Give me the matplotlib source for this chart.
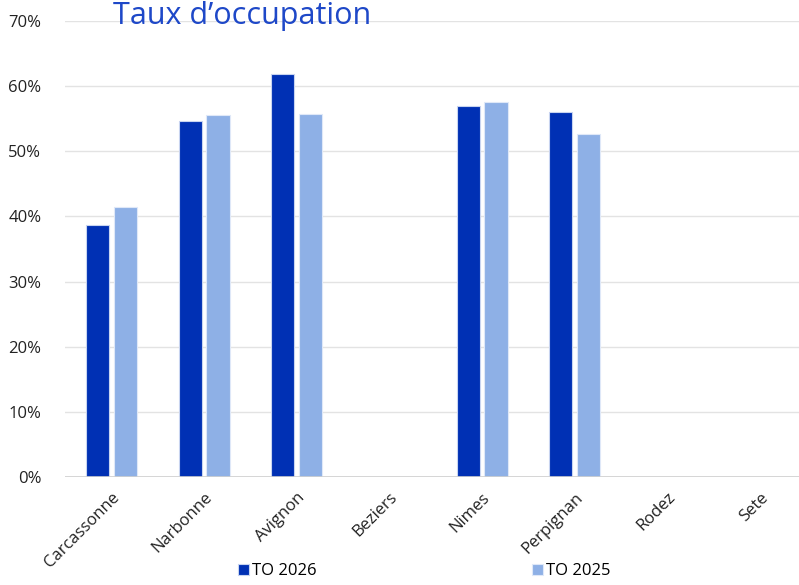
import numpy as np
import matplotlib.pyplot as plt
from matplotlib.ticker import FuncFormatter

# Data
villes = ["Carcassonne", "Narbonne", "Avignon", "Beziers", "Nimes", "Perpignan", "Rodez", "Sete"]
to_2026 = [38.7, 54.7, 61.9, np.nan, 57.0, 56.1, np.nan, np.nan]
to_2025 = [41.5, 55.5, 55.8, np.nan, 57.6, 52.7, np.nan, np.nan]

dark = "#0030B4"
light = "#8EB0E6"

plt.rcParams['font.family'] = ['Open Sans', 'DejaVu Sans']

fig = plt.figure(figsize=(7.99, 5.85), dpi=100)
ax = fig.add_axes([0.0814, 0.1846, 0.928, 0.7795])

x = np.arange(len(villes))
w = 0.25
ax.bar(x - 0.15, to_2026, w, color=dark, edgecolor="#c8d4f0", linewidth=0.8, label="TO 2026", zorder=3)
ax.bar(x + 0.15, to_2025, w, color=light, edgecolor="#dfe8f8", linewidth=0.8, label="TO 2025", zorder=3)

ax.set_xlim(-0.5, len(villes) - 0.5)
ax.set_ylim(0, 70)
ax.set_yticks(np.arange(0, 71, 10))
ax.yaxis.set_major_formatter(FuncFormatter(lambda v, p: f"{v:.0f}%"))
ax.grid(axis='y', color="#e3e3e3", linewidth=1, zorder=0)
ax.axhline(0, color="#d0d0d0", linewidth=1.2, zorder=4)
for s in ax.spines.values():
    s.set_visible(False)
ax.tick_params(length=0, labelsize=12, labelcolor="#222222")
ax.tick_params(axis='y', pad=17)
ax.set_xticks(x)
ax.set_xticklabels(villes, rotation=45, ha='right', rotation_mode='anchor')
ax.tick_params(axis='x', pad=9)

fig.text(0.141, 0.972, "Taux d\u2019occupation", color="#1E48C8", fontsize=22, va='center')

fig.legend(loc='lower left', bbox_to_anchor=(0.279, -0.016), ncol=2, frameon=False,
           fontsize=12, handlelength=0.65, handleheight=0.65, handletextpad=0.2,
           columnspacing=12.9)

plt.savefig("out.png", dpi=100)
